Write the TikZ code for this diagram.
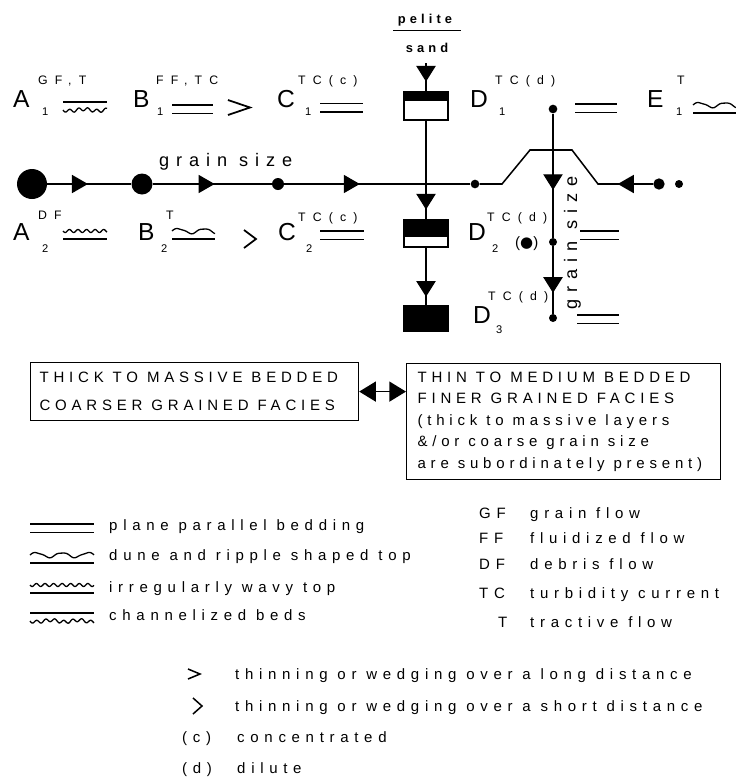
\documentclass[tikz,border=0pt]{standalone}
\usepackage{fontspec}
\setmainfont{Liberation Sans}
\newfontfamily\spacedfont[LetterSpace=38]{Liberation Sans}
\newfontfamily\boxfont[LetterSpace=32]{Liberation Sans}
\newfontfamily\supfont[LetterSpace=58]{Liberation Sans}
\newfontfamily\symfont{DejaVu Sans}
\usepackage{tikz}
\usetikzlibrary{arrows.meta,decorations.markings}

% one box line with the font's own word space
\newcommand{\boxline}[1]{\mbox{\spaceskip=0pt\xspaceskip=0pt #1}}

% bedding symbols: #1,#2 = left end of the straight line, #3 = length
\newcommand{\planebed}[3]{%
  \draw[bed] (#1,#2) -- ++(#3,0) (#1,#2+8.5) -- ++(#3,0);}
\newcommand{\dunebed}[3]{%
  \draw[bed] (#1,#2) -- ++(#3,0);
  \draw[bed] plot[domain=0:#3,samples=60,smooth] ({#1+\x},{#2-8-2.4*sin(\x*14)-0.5*sin(\x*31)});}
\newcommand{\wavybed}[3]{%
  \draw[bed] (#1,#2) -- ++(#3,0);
  \draw[bed] plot[domain=0:#3,samples=80,smooth] ({#1+\x},{#2-8+1.5*sin(\x*42)});}
\newcommand{\chanbed}[3]{%
  \draw[bed] (#1,#2) -- ++(#3,0);
  \draw[bed] plot[domain=0:#3,samples=80,smooth] ({#1+\x},{#2+8+1.6*sin(\x*40)+0.9*sin(\x*13)});}

\begin{document}
\begin{tikzpicture}[x=0.03cm, y=-0.03cm,
  flow/.style={line width=1.3pt},
  bed/.style={line width=1.1pt},
  dot/.style={circle, fill=black, inner sep=0pt, minimum size=#1},
  midtri/.style={postaction={decorate}, decoration={markings,
      mark=at position #1 with {\arrow{Triangle[length=0.48cm,width=0.54cm]}}}},
  vtri/.style={postaction={decorate}, decoration={markings,
      mark=at position #1 with {\arrow{Triangle[length=0.47cm,width=0.58cm]}}}},
  layer/.style={draw, line width=1pt, fill=white, inner sep=0pt, minimum width=1.32cm},
  letter/.style={font=\fontsize{21}{21}\selectfont, inner sep=0pt, anchor=base west},
  supr/.style={font=\supfont\fontsize{10.5}{10.5}\selectfont, inner sep=0pt, anchor=base west},
  subr/.style={font=\fontsize{9.5}{10}\selectfont, inner sep=0pt, anchor=base west},
  txt/.style={font=\spacedfont\fontsize{12.8}{15}\selectfont, inner sep=0pt, anchor=base west},
  gsz/.style={font=\spacedfont\fontsize{15.5}{16}\selectfont, inner sep=0pt},
  boxtxt/.style={draw, line width=1pt, align=left, inner ysep=0pt, anchor=north west},
  chev/.style={line width=1.5pt},
]
\useasboundingbox (0,0) rectangle (736,778);

% pelite / sand
\node[font=\boxfont\bfseries\fontsize{11}{11}\selectfont, inner sep=0pt, anchor=base] (pel) at (425,23) {pelite};
\draw[line width=0.8pt] (393,30) -- (461,30);
\node[font=\boxfont\bfseries\fontsize{11}{11}\selectfont, inner sep=0pt, anchor=base] (snd) at (427,52) {sand};

% row 1
\node[letter] (a1) at (13,107) {A};
\node[supr] (a1t) at (38,84) {GF,T};
\node[subr] (a1b) at (42,115) {1};
\chanbed{63}{102}{44}
\node[letter] (b1) at (133,107) {B};
\node[supr] (b1t) at (156,84) {FF,TC};
\node[subr] (b1b) at (157,115) {1};
\planebed{172}{105}{41}
\draw[chev] (228,100) -- (250,107.5) -- (228,115);
\node[letter] (c1) at (277,107) {C};
\node[supr] (c1t) at (298,84) {TC(c)};
\node[subr] (c1b) at (305,115) {1};
\planebed{320}{103.5}{43}
\node[letter] (d1) at (470,107) {D};
\node[supr] (d1t) at (495,84) {TC(d)};
\node[subr] (d1b) at (499,115) {1};
\planebed{575}{104}{42}
\node[letter] (e1) at (647,107) {E};
\node[supr] (e1t) at (677,84) {T};
\node[subr] (e1b) at (676,115) {1};
\dunebed{693}{113}{43}

% row 2
\node[letter] (a2) at (13,240) {A};
\node[supr] (a2t) at (38,219) {DF};
\node[subr] (a2b) at (42,252) {2};
\wavybed{63}{239}{44}
\node[letter] (b2) at (138,240) {B};
\node[supr] (b2t) at (166,219) {T};
\node[subr] (b2b) at (161,252) {2};
\dunebed{172}{239}{43}
\draw[chev] (244,230) -- (256,239) -- (244,248);
\node[letter] (c2) at (278,240) {C};
\node[supr] (c2t) at (298,221) {TC(c)};
\node[subr] (c2b) at (306,252) {2};
\planebed{320}{231}{44}
\node[letter] (d2) at (468,240) {D};
\node[supr] (d2t) at (487,221) {TC(d)};
\node[subr] (d2b) at (492,252) {2};
\node[txt] (d2p) at (515,247) {({\symfont ●})};
\planebed{580}{231}{39}
\node[letter] (d3) at (473,323) {D};
\node[supr] (d3t) at (488,300) {TC(d)};
\node[subr] (d3b) at (496,333) {3};
\planebed{577}{315}{42}

% grain size line
\node[dot=0.9cm] (big) at (32,184) {};
\node[dot=0.63cm] (med) at (142,184) {};
\node[dot=0.36cm] (sml) at (278,184) {};
\node[dot=0.26cm] (dotR) at (475,184) {};
\node[dot=0.34cm] (dotE) at (659,184) {};
\node[dot=0.24cm] (dotF) at (679,184) {};
\node[gsz, anchor=base west] (gs) at (159,166) {grain size};
\draw[flow, midtri=0.485] (big) -- (med);
\draw[flow, midtri=0.52] (med) -- (sml);
\draw[flow, midtri=0.406] (sml) -- (dotR);
\draw[flow, midtri=1.06cm] (dotE) -- (598,184) -- (572,150) -- (530,150) -- (502,184) -- (dotR);

% pelite/sand column
\coordinate (feed) at (426,63);
\node[layer, minimum height=0.84cm] (box1) at (426,106) {};
\node[layer, minimum height=0.81cm] (box2) at (426,233.5) {};
\node[layer, fill=black, minimum width=1.35cm, minimum height=0.75cm] (box3) at (426,318.5) {};
\fill (box1.north west) rectangle ([yshift=-0.3cm]box1.north east);
\fill (box2.north west) rectangle ([yshift=-0.54cm]box2.north east);
\draw[flow, line width=1pt, vtri=0.655] (feed) -- (box1);
\draw[flow, line width=1pt, vtri=0.9] (box1) -- (box2);
\draw[flow, line width=1pt, vtri=0.85] (box2) -- (box3);

% dilute column
\node[dot=0.26cm] (dd1) at (553,109) {};
\node[dot=0.24cm] (dd2) at (553,242) {};
\node[dot=0.24cm] (dd3) at (553,318) {};
\draw[flow, line width=1pt, vtri=0.615] (dd1) -- (dd2);
\draw[flow, line width=1pt, vtri=0.69] (dd2) -- (dd3);
\node[gsz, rotate=90, anchor=base] (gsv) at (577,243) {grain size};

% facies boxes
\node[boxtxt, text width=9.3cm, inner xsep=0.27cm, minimum height=1.74cm,
      font=\boxfont\fontsize{12.8}{23.9}\selectfont] (thick) at (30,362)
      {\boxline{THICK TO MASSIVE BEDDED}\\\boxline{COARSER GRAINED FACIES}};
\node[boxtxt, text width=8.76cm, inner xsep=0.33cm, minimum height=3.48cm,
      font=\boxfont\fontsize{12.8}{18.4}\selectfont] (thin) at (406,363)
      {\boxline{THIN TO MEDIUM BEDDED}\\\boxline{FINER GRAINED FACIES}\\\boxline{(thick to massive layers}\\\boxline{\&/or coarse grain size}\\\boxline{are subordinately present)}};
\draw[{Triangle[length=0.5cm,width=0.6cm]}-{Triangle[length=0.5cm,width=0.6cm]}, line width=1.2pt]
      (thick.east) -- (thick.east -| thin.west);

% legend: bedding
\planebed{30}{524}{64}
\node[txt] (lg1) at (109,530) {plane parallel bedding};
\dunebed{30}{563}{64}
\node[txt] (lg2) at (109,560) {dune and ripple shaped top};
\wavybed{30}{593}{64}
\node[txt] (lg3) at (109,592) {irregularly wavy top};
\chanbed{30}{613}{64}
\node[txt] (lg4) at (109,620) {channelized beds};

% legend: flow types
\node[txt] (gf) at (479,518) {GF};
\node[txt] (gfx) at (530,518) {grain flow};
\node[txt] (ff) at (479,543) {FF};
\node[txt] (ffx) at (530,543) {fluidized flow};
\node[txt] (df) at (479,569) {DF};
\node[txt] (dfx) at (530,569) {debris flow};
\node[txt] (tc) at (479,598) {TC};
\node[txt] (tcx) at (530,598) {turbidity current};
\node[txt] (tt) at (498,627) {T};
\node[txt] (ttx) at (530,627) {tractive flow};

% legend: symbols
\draw[chev, line width=1.3pt] (188,669) -- (200,674) -- (188,679);
\node[txt] (lgl) at (235,679) {thinning or wedging over a long distance};
\draw[chev, line width=1.3pt] (193,698) -- (202,706) -- (193,714);
\node[txt] (lgs) at (235,711) {thinning or wedging over a short distance};
\node[txt] (lgc) at (182,742) {(c)};
\node[txt] (lgcx) at (237,742) {concentrated};
\node[txt] (lgd) at (182,773) {(d)};
\node[txt] (lgdx) at (237,773) {dilute};
\end{tikzpicture}
\end{document}
